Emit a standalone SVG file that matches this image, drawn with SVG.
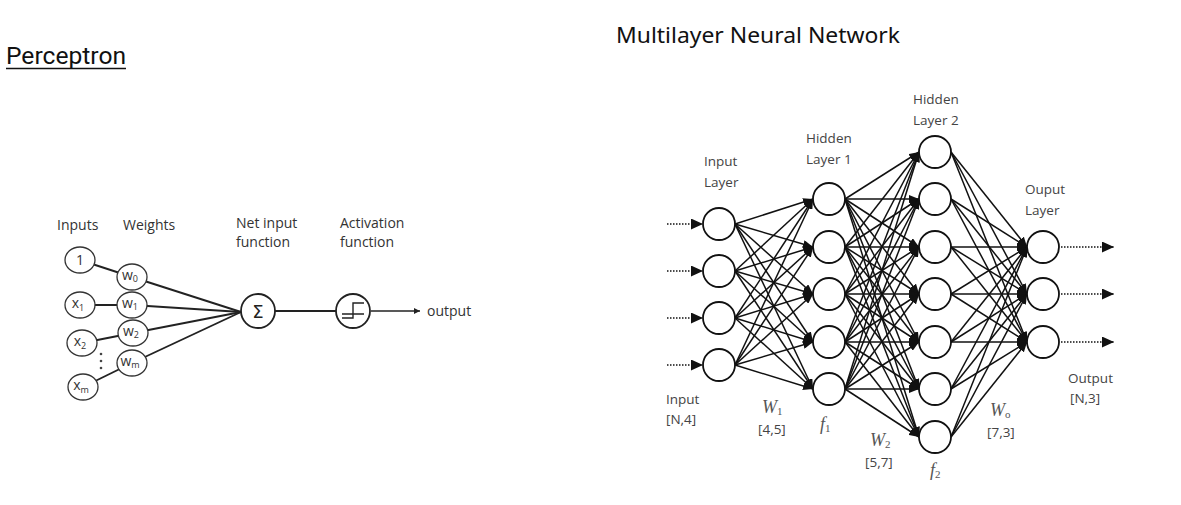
<svg xmlns="http://www.w3.org/2000/svg" width="1181" height="505" viewBox="0 0 1181 505">
<defs>
<marker id="ah" markerUnits="userSpaceOnUse" markerWidth="11" markerHeight="8" refX="10" refY="4" orient="auto"><path d="M0,0 L10,4 L0,8 z" fill="#111"/></marker>
<marker id="ah2" markerUnits="userSpaceOnUse" markerWidth="13" markerHeight="11" refX="12" refY="5.5" orient="auto"><path d="M0,0 L12,5.5 L0,11 z" fill="#111"/></marker>
<marker id="ahs" markerUnits="userSpaceOnUse" markerWidth="7" markerHeight="6" refX="6" refY="3" orient="auto"><path d="M0,0 L6,3 L0,6 z" fill="#222"/></marker>
<style>
.title{font-family:"Roboto","Liberation Sans",sans-serif;font-size:24px;fill:#111}
.lbl{font-family:"Open Sans","Liberation Sans",sans-serif;font-size:14px;fill:#333}
.ml{font-family:"Open Sans","Liberation Sans",sans-serif;font-size:13.5px;fill:#444}
.math{font-family:"Liberation Serif",serif;font-size:18px;fill:#555;font-style:italic}
.sub{font-style:normal;font-size:11px}
.pn{fill:#fff;stroke:#333;stroke-width:1.3}
.pt{font-family:"Open Sans","Liberation Sans",sans-serif;font-size:14px;fill:#333;text-anchor:middle}
.pc{stroke:#222;stroke-width:1.9;fill:none}
.n{fill:#fff;stroke:#111;stroke-width:1.8}
.c line{stroke:#111;stroke-width:1.5;marker-end:url(#ah)}
.dot{stroke:#111;stroke-width:1.6;stroke-dasharray:1.5,1.5;marker-end:url(#ah2)}
</style>
</defs>
<rect width="1181" height="505" fill="#fff"/>

<!-- Titles -->
<text class="title" x="6" y="64" textLength="120" lengthAdjust="spacingAndGlyphs">Perceptron</text>
<line x1="6" y1="68.5" x2="126" y2="68.5" stroke="#111" stroke-width="1.3"/>
<text class="title" x="616" y="43" textLength="284" lengthAdjust="spacingAndGlyphs" style="font-family:'Noto Sans','Open Sans',sans-serif;font-size:22.5px">Multilayer Neural Network</text>

<!-- Perceptron labels -->
<text class="lbl" x="57" y="230">Inputs</text>
<text class="lbl" x="123" y="230">Weights</text>
<text class="lbl" x="236" y="228">Net input</text>
<text class="lbl" x="236" y="247">function</text>
<text class="lbl" x="340" y="228">Activation</text>
<text class="lbl" x="340" y="247">function</text>
<text class="lbl" x="427" y="316">output</text>

<!-- Perceptron connectors -->
<g id="perceptron-connectors" class="pc">
<line x1="80" y1="260" x2="132" y2="277"/>
<line x1="80" y1="305" x2="132" y2="305"/>
<line x1="82" y1="343" x2="133" y2="333"/>
<line x1="83" y1="387" x2="132" y2="363"/>
<line x1="132" y1="277" x2="241" y2="312"/>
<line x1="132" y1="305" x2="241" y2="312"/>
<line x1="133" y1="333" x2="241" y2="312"/>
<line x1="132" y1="363" x2="241" y2="312"/>
<line x1="258" y1="311" x2="353" y2="311"/>
<line x1="371" y1="311" x2="420" y2="311" marker-end="url(#ahs)" stroke-width="1.3"/>
</g>
<g id="ellipsis" fill="#444">
<circle cx="101" cy="354" r="1.3"/><circle cx="101" cy="361" r="1.3"/><circle cx="101" cy="368" r="1.3"/>
</g>

<!-- Perceptron nodes -->
<g id="in-1"><ellipse class="pn" cx="80" cy="260" rx="15" ry="13"/><text class="pt" x="80" y="265">1</text></g>
<g id="in-x1"><ellipse class="pn" cx="80" cy="305" rx="15" ry="13"/><text class="pt" x="78" y="308">x<tspan font-size="9" dy="3">1</tspan></text></g>
<g id="in-x2"><ellipse class="pn" cx="82" cy="343" rx="15" ry="13"/><text class="pt" x="80" y="346">x<tspan font-size="9" dy="3">2</tspan></text></g>
<g id="in-xm"><ellipse class="pn" cx="83" cy="387" rx="15" ry="13"/><text class="pt" x="81" y="390">x<tspan font-size="9" dy="3">m</tspan></text></g>
<g id="w0"><ellipse class="pn" cx="132" cy="277" rx="15" ry="13"/><text class="pt" x="130" y="280">w<tspan font-size="9" dy="2">0</tspan></text></g>
<g id="w1"><ellipse class="pn" cx="132" cy="305" rx="15" ry="13"/><text class="pt" x="130" y="308">w<tspan font-size="9" dy="2">1</tspan></text></g>
<g id="w2"><ellipse class="pn" cx="133" cy="333" rx="15" ry="13"/><text class="pt" x="131" y="336">w<tspan font-size="9" dy="2">2</tspan></text></g>
<g id="wm"><ellipse class="pn" cx="132" cy="363" rx="15" ry="13"/><text class="pt" x="130" y="366">w<tspan font-size="9" dy="2">m</tspan></text></g>
<g id="sum"><circle cx="258" cy="311" r="17" fill="#fff" stroke="#222" stroke-width="1.8"/><text x="258" y="318" text-anchor="middle" font-family="'DejaVu Sans',sans-serif" font-size="18" fill="#222">Σ</text></g>
<g id="activation"><circle cx="353" cy="311" r="17" fill="#fff" stroke="#222" stroke-width="1.8"/>
<path d="M342,314 H364 M342,318 H353 V303 H364" fill="none" stroke="#222" stroke-width="1.4"/></g>

<!-- MLP connectors -->
<g id="connectors" class="c">
<line x1="735" y1="224" x2="813" y2="199"/><line x1="735" y1="224" x2="813" y2="247"/><line x1="735" y1="224" x2="813" y2="294"/><line x1="735" y1="224" x2="813" y2="342"/><line x1="735" y1="224" x2="813" y2="389"/>
<line x1="735" y1="271" x2="813" y2="199"/><line x1="735" y1="271" x2="813" y2="247"/><line x1="735" y1="271" x2="813" y2="294"/><line x1="735" y1="271" x2="813" y2="342"/><line x1="735" y1="271" x2="813" y2="389"/>
<line x1="735" y1="318" x2="813" y2="199"/><line x1="735" y1="318" x2="813" y2="247"/><line x1="735" y1="318" x2="813" y2="294"/><line x1="735" y1="318" x2="813" y2="342"/><line x1="735" y1="318" x2="813" y2="389"/>
<line x1="735" y1="365" x2="813" y2="199"/><line x1="735" y1="365" x2="813" y2="247"/><line x1="735" y1="365" x2="813" y2="294"/><line x1="735" y1="365" x2="813" y2="342"/><line x1="735" y1="365" x2="813" y2="389"/>

<line x1="845" y1="199" x2="919" y2="152"/><line x1="845" y1="199" x2="919" y2="199"/><line x1="845" y1="199" x2="919" y2="247"/><line x1="845" y1="199" x2="919" y2="294"/><line x1="845" y1="199" x2="919" y2="342"/><line x1="845" y1="199" x2="919" y2="389"/><line x1="845" y1="199" x2="919" y2="437"/>
<line x1="845" y1="247" x2="919" y2="152"/><line x1="845" y1="247" x2="919" y2="199"/><line x1="845" y1="247" x2="919" y2="247"/><line x1="845" y1="247" x2="919" y2="294"/><line x1="845" y1="247" x2="919" y2="342"/><line x1="845" y1="247" x2="919" y2="389"/><line x1="845" y1="247" x2="919" y2="437"/>
<line x1="845" y1="294" x2="919" y2="152"/><line x1="845" y1="294" x2="919" y2="199"/><line x1="845" y1="294" x2="919" y2="247"/><line x1="845" y1="294" x2="919" y2="294"/><line x1="845" y1="294" x2="919" y2="342"/><line x1="845" y1="294" x2="919" y2="389"/><line x1="845" y1="294" x2="919" y2="437"/>
<line x1="845" y1="342" x2="919" y2="152"/><line x1="845" y1="342" x2="919" y2="199"/><line x1="845" y1="342" x2="919" y2="247"/><line x1="845" y1="342" x2="919" y2="294"/><line x1="845" y1="342" x2="919" y2="342"/><line x1="845" y1="342" x2="919" y2="389"/><line x1="845" y1="342" x2="919" y2="437"/>
<line x1="845" y1="389" x2="919" y2="152"/><line x1="845" y1="389" x2="919" y2="199"/><line x1="845" y1="389" x2="919" y2="247"/><line x1="845" y1="389" x2="919" y2="294"/><line x1="845" y1="389" x2="919" y2="342"/><line x1="845" y1="389" x2="919" y2="389"/><line x1="845" y1="389" x2="919" y2="437"/>

<line x1="951" y1="152" x2="1027" y2="247"/><line x1="951" y1="152" x2="1027" y2="294"/><line x1="951" y1="152" x2="1027" y2="342"/>
<line x1="951" y1="199" x2="1027" y2="247"/><line x1="951" y1="199" x2="1027" y2="294"/><line x1="951" y1="199" x2="1027" y2="342"/>
<line x1="951" y1="247" x2="1027" y2="247"/><line x1="951" y1="247" x2="1027" y2="294"/><line x1="951" y1="247" x2="1027" y2="342"/>
<line x1="951" y1="294" x2="1027" y2="247"/><line x1="951" y1="294" x2="1027" y2="294"/><line x1="951" y1="294" x2="1027" y2="342"/>
<line x1="951" y1="342" x2="1027" y2="247"/><line x1="951" y1="342" x2="1027" y2="294"/><line x1="951" y1="342" x2="1027" y2="342"/>
<line x1="951" y1="389" x2="1027" y2="247"/><line x1="951" y1="389" x2="1027" y2="294"/><line x1="951" y1="389" x2="1027" y2="342"/>
<line x1="951" y1="437" x2="1027" y2="247"/><line x1="951" y1="437" x2="1027" y2="294"/><line x1="951" y1="437" x2="1027" y2="342"/>
</g>
<g id="io-arrows">
<line class="dot" x1="667" y1="224" x2="703" y2="224"/>
<line class="dot" x1="667" y1="271" x2="703" y2="271"/>
<line class="dot" x1="667" y1="318" x2="703" y2="318"/>
<line class="dot" x1="667" y1="365" x2="703" y2="365"/>
<line class="dot" x1="1061" y1="247" x2="1114" y2="247"/>
<line class="dot" x1="1061" y1="294" x2="1114" y2="294"/>
<line class="dot" x1="1061" y1="342" x2="1114" y2="342"/>
</g>

<!-- MLP nodes -->
<g id="input-layer">
<circle class="n" cx="719" cy="224" r="16"/><circle class="n" cx="719" cy="271" r="16"/><circle class="n" cx="719" cy="318" r="16"/><circle class="n" cx="719" cy="365" r="16"/>
</g>
<g id="hidden-layer-1">
<circle class="n" cx="829" cy="199" r="16"/><circle class="n" cx="829" cy="247" r="16"/><circle class="n" cx="829" cy="294" r="16"/><circle class="n" cx="829" cy="342" r="16"/><circle class="n" cx="829" cy="389" r="16"/>
</g>
<g id="hidden-layer-2">
<circle class="n" cx="935" cy="152" r="16"/><circle class="n" cx="935" cy="199" r="16"/><circle class="n" cx="935" cy="247" r="16"/><circle class="n" cx="935" cy="294" r="16"/><circle class="n" cx="935" cy="342" r="16"/><circle class="n" cx="935" cy="389" r="16"/><circle class="n" cx="935" cy="437" r="16"/>
</g>
<g id="output-layer">
<circle class="n" cx="1043" cy="247" r="16"/><circle class="n" cx="1043" cy="294" r="16"/><circle class="n" cx="1043" cy="342" r="16"/>
</g>

<!-- MLP labels -->
<g id="mlp-labels">
<text class="ml" x="704" y="166">Input</text><text class="ml" x="704" y="187">Layer</text>
<text class="ml" x="806" y="143">Hidden</text><text class="ml" x="806" y="164">Layer 1</text>
<text class="ml" x="913" y="104">Hidden</text><text class="ml" x="913" y="125">Layer 2</text>
<text class="ml" x="1025" y="194">Ouput</text><text class="ml" x="1025" y="215">Layer</text>
<text class="ml" x="1068" y="383">Output</text><text class="ml" x="1070" y="403">[N,3]</text>
<text class="ml" x="666" y="404">Input</text><text class="ml" x="666" y="424">[N,4]</text>
<text class="ml" x="758" y="434">[4,5]</text>
<text class="ml" x="865" y="467">[5,7]</text>
<text class="ml" x="987" y="437">[7,3]</text>
<text class="math" x="762" y="413">W<tspan class="sub" dy="2">1</tspan></text>
<text class="math" x="820" y="430">f<tspan class="sub" dy="2">1</tspan></text>
<text class="math" x="870" y="446">W<tspan class="sub" dy="2">2</tspan></text>
<text class="math" x="930" y="476">f<tspan class="sub" dy="2">2</tspan></text>
<text class="math" x="990" y="416">W<tspan class="sub" dy="2" font-style="italic">o</tspan></text>
</g>
</svg>
